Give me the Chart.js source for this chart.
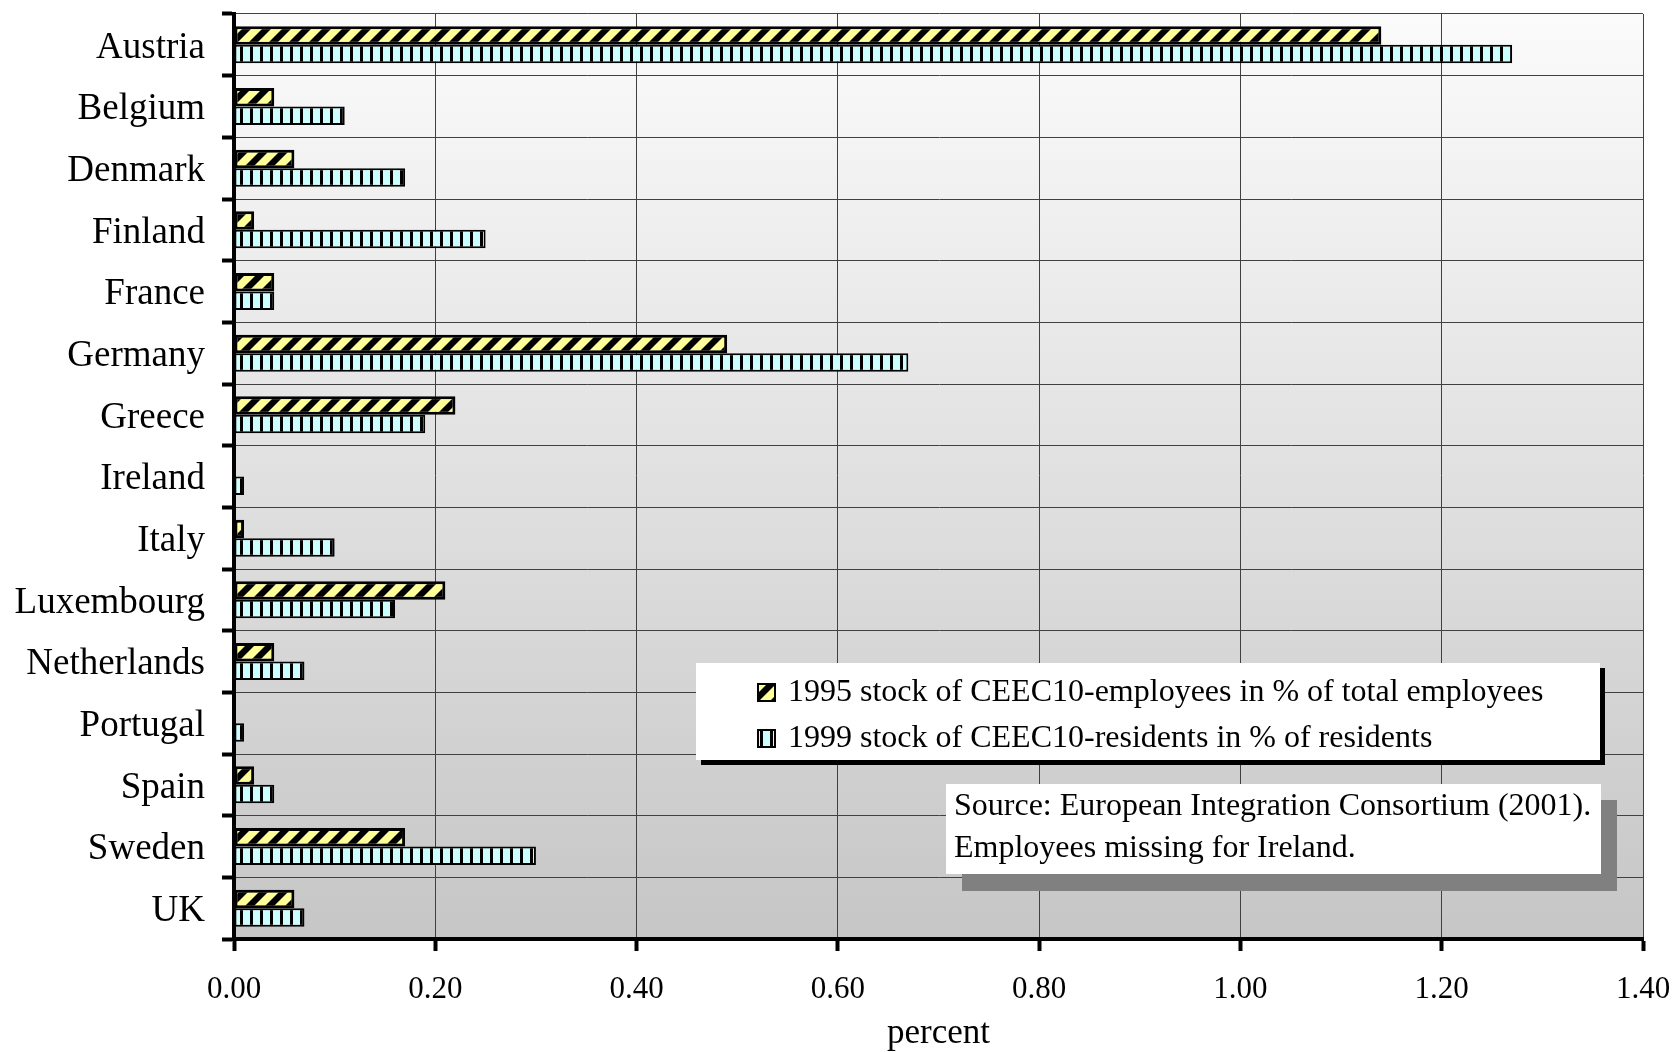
<!DOCTYPE html>
<html>
<head>
<meta charset="utf-8">
<script src="https://cdn.jsdelivr.net/npm/chart.js@4/dist/chart.umd.min.js"></script>
<style>
  html, body { margin: 0; padding: 0; background: #fff; }
  canvas { display: block; }
</style>
</head>
<body>
<canvas id="migrationChart" width="1677" height="1052"></canvas>
<script>
const countries = ['Austria', 'Belgium', 'Denmark', 'Finland', 'France', 'Germany', 'Greece', 'Ireland',
  'Italy', 'Luxembourg', 'Netherlands', 'Portugal', 'Spain', 'Sweden', 'UK'];
const employees1995 = [1.14, 0.04, 0.06, 0.02, 0.04, 0.49, 0.22, null, 0.01, 0.21, 0.04, null, 0.02, 0.17, 0.06];
const residents1999 = [1.27, 0.11, 0.17, 0.25, 0.04, 0.67, 0.19, 0.01, 0.10, 0.16, 0.07, 0.01, 0.04, 0.30, 0.07];
const seriesNames = ['1995 stock of CEEC10-employees in % of total employees',
  '1999 stock of CEEC10-residents in % of residents'];
const sourceNote = ['Source: European Integration Consortium (2001).', 'Employees missing for Ireland.'];
const xTicks = [0, 0.2, 0.4, 0.6, 0.8, 1.0, 1.2, 1.4];

const serif = "'Liberation Serif', 'Times New Roman', serif";

// fill patterns like the old excel hatches
function stripePattern() {
  const c = document.createElement('canvas');
  c.width = 20; c.height = 20;
  const g = c.getContext('2d');
  g.fillStyle = '#000';
  g.fillRect(0, 0, 20, 20);
  g.fillStyle = '#ffff99';
  for (const k of [-20, 0, 20]) {
    g.beginPath();
    g.moveTo(k, 20);
    g.lineTo(k + 11, 20);
    g.lineTo(k + 31, 0);
    g.lineTo(k + 20, 0);
    g.closePath();
    g.fill();
  }
  return g.createPattern(c, 'repeat');
}

function barsPattern() {
  const c = document.createElement('canvas');
  c.width = 10; c.height = 10;
  const g = c.getContext('2d');
  g.fillStyle = '#ccffff';
  g.fillRect(0, 0, 10, 10);
  g.fillStyle = '#000';
  g.fillRect(0, 0, 3, 10);
  return g.createPattern(c, 'repeat');
}

const yellowFill = stripePattern();
const cyanFill = barsPattern();

const plotBackground = {
  id: 'plotBackground',
  beforeDraw(chart) {
    const { ctx, chartArea: a } = chart;
    const grad = ctx.createLinearGradient(0, a.top, 0, a.bottom);
    grad.addColorStop(0, '#fbfbfb');
    grad.addColorStop(1, '#c6c6c6');
    ctx.save();
    ctx.fillStyle = grad;
    ctx.fillRect(a.left, a.top, a.right - a.left, a.bottom - a.top);
    ctx.restore();
  }
};

const boxes = {
  id: 'boxes',
  afterDraw(chart) {
    const ctx = chart.ctx;
    ctx.save();

    // legend with a black shadow
    ctx.fillStyle = '#000';
    ctx.fillRect(701, 668, 904, 97);
    ctx.fillStyle = '#fff';
    ctx.fillRect(696, 663, 904, 97);
    ctx.font = '32px ' + serif;
    ctx.textBaseline = 'middle';
    const rows = [692, 738];
    chart.data.datasets.forEach((ds, i) => {
      ctx.fillStyle = ds.backgroundColor;
      ctx.fillRect(758, rows[i] - 8, 17, 17);
      ctx.lineWidth = 2;
      ctx.strokeStyle = '#000';
      ctx.strokeRect(758, rows[i] - 8, 17, 17);
      ctx.fillStyle = '#000';
      ctx.fillText(ds.label, 788, rows[i] + 1);
    });

    // source note with grey shadow
    ctx.fillStyle = '#808080';
    ctx.fillRect(962, 800, 655, 91);
    ctx.fillStyle = '#fff';
    ctx.fillRect(946, 784, 655, 90);
    ctx.fillStyle = '#000';
    ctx.font = '32px ' + serif;
    ctx.fillText(sourceNote[0], 954, 807);
    ctx.fillText(sourceNote[1], 954, 849);

    ctx.restore();
  }
};

const chartCtx = document.getElementById('migrationChart').getContext('2d');

const migrationChart = new Chart(chartCtx, {
  type: 'bar',
  data: {
    labels: countries,
    datasets: [{
      label: seriesNames[0],
      data: employees1995,
      backgroundColor: yellowFill,
      borderColor: '#000',
      borderWidth: 3,
      borderSkipped: false
    }, {
      label: seriesNames[1],
      data: residents1999,
      backgroundColor: cyanFill,
      borderColor: '#000',
      borderWidth: 2,
      borderSkipped: false
    }]
  },
  options: {
    indexAxis: 'y',
    responsive: false,
    animation: false,
    devicePixelRatio: 1,
    categoryPercentage: 0.6,
    barPercentage: 1.0,
    layout: { padding: 0 },
    plugins: {
      legend: { display: false },
      tooltip: { enabled: false }
    },
    scales: {
      x: {
        min: 0,
        max: 1.4,
        afterBuildTicks(scale) {
          scale.ticks = xTicks.map(v => ({ value: v }));
        },
        afterFit(scale) {
          scale.height = 113;
          scale.paddingLeft = 0;
          scale.paddingRight = 34;
        },
        ticks: {
          color: '#000',
          font: { family: serif, size: 31 },
          padding: 20,
          maxRotation: 0,
          callback: v => Number(v).toFixed(2)
        },
        grid: {
          color: '#404040',
          lineWidth: 1,
          tickColor: '#000',
          tickWidth: 4,
          tickLength: 12
        },
        border: { color: '#000', width: 4 },
        title: {
          display: true,
          text: 'percent',
          color: '#000',
          font: { family: serif, size: 35, lineHeight: 1 },
          padding: { top: 0, bottom: 1 }
        }
      },
      y: {
        afterFit(scale) {
          scale.width = 234;
          scale.paddingTop = 14;
          scale.paddingBottom = 0;
        },
        ticks: {
          color: '#000',
          font: { family: serif, size: 37 },
          padding: 17,
          labelOffset: 3
        },
        grid: {
          offset: true,
          color: '#404040',
          lineWidth: 1,
          tickColor: '#000',
          tickWidth: 4,
          tickLength: 12
        },
        border: { color: '#000', width: 4 }
      }
    }
  },
  plugins: [plotBackground, boxes]
});
</script>
</body>
</html>
